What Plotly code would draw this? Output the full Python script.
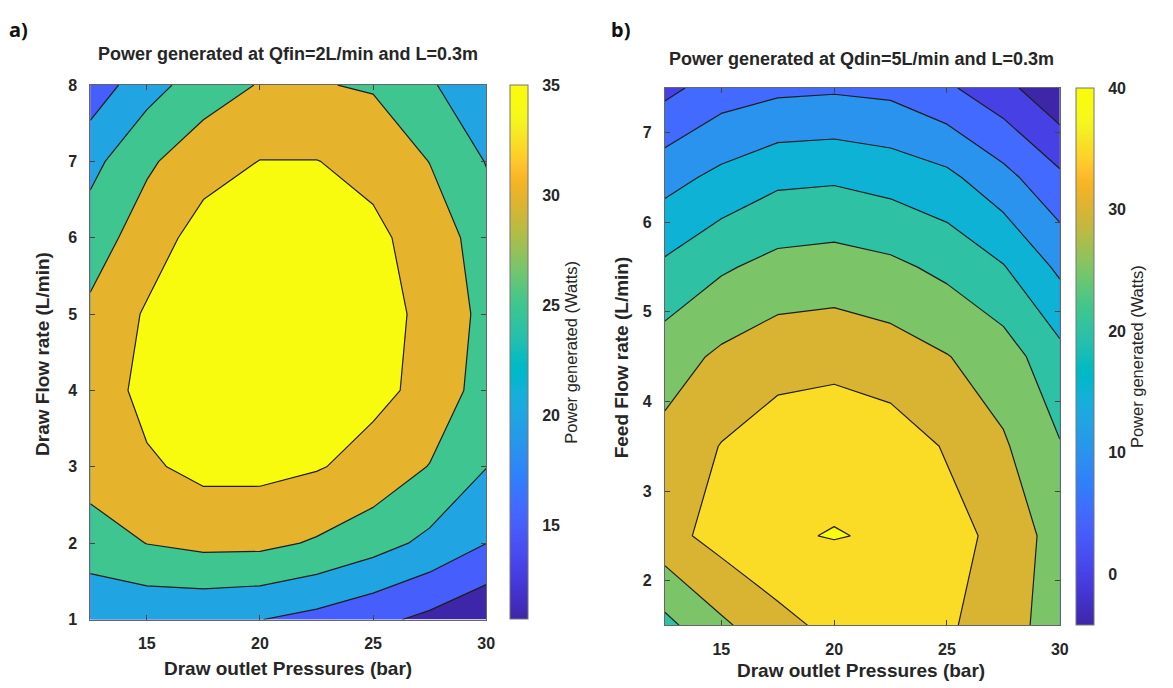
import plotly.graph_objects as go

# ---------------- data ----------------
pressure_a = [12.5, 15, 17.5, 20, 22.5, 25, 27.5, 30]
draw_flow_a = [1, 2, 3, 4, 5, 6, 7, 8]
power_a = [
    [22.0, 21.0, 20.8, 20.1, 18.5, 16.3, 13.8, 10.75],
    [27.0, 30.1, 31.25, 31.2, 29.5, 27.0, 23.8, 20.05],
    [32.8, 34.3, 36.3, 36.3, 35.35, 33.4, 29.8, 25.1],
    [32.0, 36.5, 38.5, 38.5, 37.5, 36.1, 33.8, 27.5],
    [31.0, 35.55, 38.8, 38.8, 38.0, 36.5, 34.0, 28.5],
    [27.5, 32.5, 37.0, 38.0, 37.5, 36.0, 33.0, 27.5],
    [23.5, 29.2, 33.0, 35.1, 35.1, 33.7, 29.9, 24.8],
    [17.0, 23.0, 27.5, 30.3, 30.3, 29.5, 25.55, 21.5],
]
levels_a = (15, 35, 5)
clim_a = (10.75, 35)
cbar_ticks_a = [15, 20, 25, 30, 35]

pressure_b = [12.5, 15, 17.5, 20, 22.5, 25, 27.5, 30]
feed_flow_b = [1.5, 2.5, 3.5, 4.5, 5.5, 6.5, 7.5]
power_b = [
    [23.6, 29.1, 33.3, 36.5, 37.0, 35.8, 31.8, 28.0],
    [33.2, 36.9, 39.6, 40.16, 39.6, 36.6, 33.7, 27.5],
    [31.5, 35.2, 37.65, 38.6, 37.5, 34.6, 30.6, 25.3],
    [27.7, 30.9, 33.0, 33.4, 32.3, 30.2, 27.4, 21.5],
    [20.9, 24.35, 26.6, 27.2, 26.1, 23.8, 20.3, 14.0],
    [13.2, 16.3, 18.9, 19.3, 18.1, 16.2, 11.6, 6.0],
    [3.6, 7.5, 8.9, 9.3, 8.7, 5.8, 1.6, -4.2],
]
levels_b = (0, 40, 5)
clim_b = (-4.2, 40)
cbar_ticks_b = [0, 10, 20, 30, 40]

x_ticks = [15, 20, 25, 30]
y_ticks_a = [1, 2, 3, 4, 5, 6, 7, 8]
y_ticks_b = [2, 3, 4, 5, 6, 7]

# ---------------- parula colormap ----------------
PARULA = [
    (0.2422, 0.1504, 0.6603), (0.2504, 0.1650, 0.7076), (0.2578, 0.1818, 0.7511),
    (0.2647, 0.1978, 0.7952), (0.2706, 0.2147, 0.8364), (0.2751, 0.2342, 0.8710),
    (0.2783, 0.2559, 0.8991), (0.2803, 0.2782, 0.9221), (0.2813, 0.3006, 0.9414),
    (0.2810, 0.3228, 0.9579), (0.2795, 0.3447, 0.9717), (0.2760, 0.3667, 0.9829),
    (0.2699, 0.3892, 0.9906), (0.2602, 0.4123, 0.9952), (0.2440, 0.4358, 0.9988),
    (0.2206, 0.4603, 0.9973), (0.1963, 0.4847, 0.9892), (0.1834, 0.5074, 0.9798),
    (0.1786, 0.5289, 0.9682), (0.1764, 0.5499, 0.9520), (0.1687, 0.5703, 0.9359),
    (0.1540, 0.5902, 0.9218), (0.1460, 0.6091, 0.9079), (0.1380, 0.6276, 0.8973),
    (0.1248, 0.6459, 0.8883), (0.1113, 0.6635, 0.8763), (0.0952, 0.6798, 0.8598),
    (0.0689, 0.6948, 0.8394), (0.0297, 0.7082, 0.8163), (0.0036, 0.7197, 0.7917),
    (0.0067, 0.7291, 0.7660), (0.0433, 0.7365, 0.7394), (0.0964, 0.7428, 0.7116),
    (0.1408, 0.7489, 0.6833), (0.1717, 0.7549, 0.6545), (0.1938, 0.7612, 0.6248),
    (0.2161, 0.7674, 0.5939), (0.2470, 0.7725, 0.5624), (0.2906, 0.7761, 0.5300),
    (0.3406, 0.7780, 0.4954), (0.3909, 0.7778, 0.4617), (0.4456, 0.7748, 0.4276),
    (0.5044, 0.7692, 0.3939), (0.5616, 0.7615, 0.3609), (0.6174, 0.7522, 0.3283),
    (0.6720, 0.7420, 0.2960), (0.7242, 0.7318, 0.2668), (0.7738, 0.7217, 0.2384),
    (0.8203, 0.7123, 0.2135), (0.8634, 0.7058, 0.1913), (0.9035, 0.7033, 0.1710),
    (0.9393, 0.7063, 0.1521), (0.9728, 0.7137, 0.1408), (0.9956, 0.7411, 0.1637),
    (0.9953, 0.7861, 0.1681), (0.9883, 0.8260, 0.1564), (0.9777, 0.8622, 0.1494),
    (0.9695, 0.8985, 0.1491), (0.9620, 0.9379, 0.1350), (0.9626, 0.9640, 0.1110),
    (0.9700, 0.9750, 0.0900), (0.9740, 0.9800, 0.0700), (0.9755, 0.9820, 0.0600),
    (0.9763, 0.9831, 0.0538),
]


def par(t):
    t = min(max(t, 0.0), 1.0)
    f = t * (len(PARULA) - 1)
    i = int(f)
    if i >= len(PARULA) - 1:
        c = PARULA[-1]
    else:
        w = f - i
        c = tuple(PARULA[i][k] * (1 - w) + PARULA[i + 1][k] * w for k in range(3))
    return "rgb(%d,%d,%d)" % tuple(round(v * 255) for v in c)


PARULA_SCALE = [[i / (len(PARULA) - 1), par(i / (len(PARULA) - 1))] for i in range(len(PARULA))]


def band_scale(levels, clim):
    start, end, step = levels
    lv = []
    v = start
    while v <= end + 1e-9:
        lv.append(v)
        v += step
    cols = [par(0.0)] + [par((L - clim[0]) / (clim[1] - clim[0])) for L in lv]
    n = len(cols) - 1
    return [[k / n, c] for k, c in enumerate(cols)]


W, H = 1173, 688
TXT = "#262626"
FONT = "Liberation Sans, Arial, sans-serif"


def px(x):
    return x / W


def py(y):
    return 1 - y / H


# pixel boxes of the two plot areas
A = dict(l=91, r=490, t=79, b=627)
B = dict(l=670, r=1068, t=82, b=633)

fig = go.Figure()

for (xs, ys, zs, lev, clim, ax, ay, box, cbx, cticks) in [
    (pressure_a, draw_flow_a, power_a, levels_a, clim_a, "x", "y", A, 514, cbar_ticks_a),
    (pressure_b, feed_flow_b, power_b, levels_b, clim_b, "x2", "y2", B, 1084, cbar_ticks_b),
]:
    fig.add_trace(go.Contour(
        x=xs, y=ys, z=zs,
        xaxis=ax, yaxis=ay,
        autocontour=False,
        contours=dict(start=lev[0], end=lev[1], size=lev[2], coloring="fill", showlines=True),
        colorscale=band_scale(lev, clim),
        line=dict(color="#1e1e1e", width=1.2, smoothing=0),
        showscale=False,
        hoverinfo="skip",
    ))
    fig.add_trace(go.Scatter(
        x=[xs[3]], y=[ys[3]], xaxis=ax, yaxis=ay, mode="markers",
        marker=dict(
            size=1, opacity=0, color=[clim[0]], cmin=clim[0], cmax=clim[1],
            colorscale=PARULA_SCALE, showscale=True,
            colorbar=dict(
                x=px(cbx), xanchor="left", xpad=0, ypad=0,
                y=py((box["t"] + box["b"]) / 2), yanchor="middle",
                len=(box["b"] - box["t"]) / H, lenmode="fraction",
                thickness=18, thicknessmode="pixels",
                outlinewidth=1, outlinecolor="#777",
                tickvals=cticks, ticks="outside", ticklen=11, tickcolor="rgba(0,0,0,0)",
                tickfont=dict(family=FONT, size=16, color=TXT, weight="bold"),
                title=dict(text="Power generated (Watts)", side="right",
                           font=dict(family=FONT, size=16.5, color=TXT)),
            ),
        ),
        hoverinfo="skip", showlegend=False,
    ))

axis_common = dict(
    showgrid=False, zeroline=False, showline=True, linecolor="#666", linewidth=1,
    mirror="ticks", ticks="inside", ticklen=5, tickcolor="#444",
    tickfont=dict(family=FONT, size=16, color=TXT, weight="bold"),
    ticklabelstandoff=9,
)

fig.update_layout(
    width=W, height=H,
    margin=dict(l=0, r=0, t=0, b=0),
    paper_bgcolor="white", plot_bgcolor="white",
    showlegend=False,
    xaxis=dict(domain=[px(A["l"]), px(A["r"])], range=[12.5, 30], tickvals=x_ticks, anchor="y", **axis_common),
    yaxis=dict(domain=[py(A["b"]), py(A["t"])], range=[1, 8], tickvals=y_ticks_a, anchor="x", **axis_common),
    xaxis2=dict(domain=[px(B["l"]), px(B["r"])], range=[12.5, 30], tickvals=x_ticks, anchor="y2", **axis_common),
    yaxis2=dict(domain=[py(B["b"]), py(B["t"])], range=[1.5, 7.5], tickvals=y_ticks_b, anchor="x2", **axis_common),
)

ann = []
bold = lambda s: dict(family=FONT, size=s, color=TXT, weight="bold")
# panel letters
ann.append(dict(text="a)", x=px(7), y=py(22), xanchor="left", yanchor="middle",
                font=dict(family="Noto Sans, sans-serif", size=20, color="#111", weight="bold")))
ann.append(dict(text="b)", x=px(614), y=py(22), xanchor="left", yanchor="middle",
                font=dict(family="Noto Sans, sans-serif", size=20, color="#111", weight="bold")))
# titles
ann.append(dict(text="Power generated at Qfin=2L/min and L=0.3m", x=px(290), y=py(47),
                xanchor="center", yanchor="middle", font=bold(18)))
ann.append(dict(text="Power generated at Qdin=5L/min and L=0.3m", x=px(868), y=py(52),
                xanchor="center", yanchor="middle", font=bold(18)))
# axis titles
ann.append(dict(text="Draw outlet Pressures (bar)", x=px(290), y=py(677),
                xanchor="center", yanchor="middle", font=bold(19)))
ann.append(dict(text="Draw outlet Pressures (bar)", x=px(868), y=py(679),
                xanchor="center", yanchor="middle", font=bold(19)))
ann.append(dict(text="Draw Flow rate (L/min)", x=px(43), y=py(355), textangle=-90,
                xanchor="center", yanchor="middle", font=bold(19)))
ann.append(dict(text="Feed Flow rate (L/min)", x=px(626), y=py(358), textangle=-90,
                xanchor="center", yanchor="middle", font=bold(19)))
for a in ann:
    a.update(xref="paper", yref="paper", showarrow=False)
fig.update_layout(annotations=ann)

fig.write_html("out.html")
